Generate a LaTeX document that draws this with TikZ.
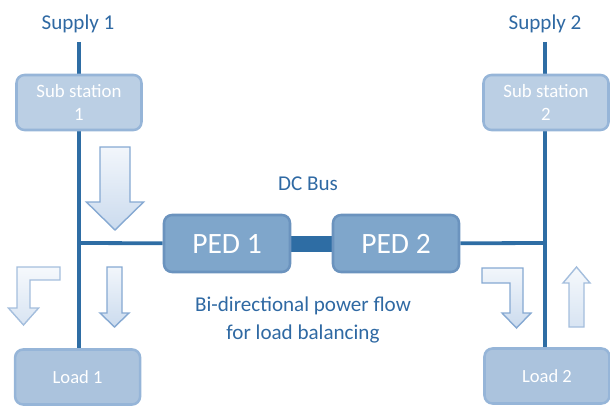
\documentclass[tikz,border=0pt]{standalone}
\usepackage{fontspec}
\setmainfont{Carlito}
\usepackage{tikz}
\pgfdeclarelayer{bg}
\pgfsetlayers{bg,main}
\definecolor{busblue}{HTML}{2E6DA4}
\definecolor{textblue}{HTML}{2F69A3}
\definecolor{subfill}{HTML}{BBCFE4}
\definecolor{subdraw}{HTML}{96B5D8}
\definecolor{loadfill}{HTML}{ABC3DD}
\definecolor{pedfill}{HTML}{7FA6CB}
\definecolor{peddraw}{HTML}{6B93BE}
\definecolor{arrowtop}{HTML}{F2F6FB}
\definecolor{arrowbot}{HTML}{CBDBEE}
\definecolor{arrowdraw}{HTML}{86A9D2}
\tikzset{
    box/.style={rectangle, rounded corners=2mm, draw=subdraw, line width=1.8pt, text=white, align=center, minimum width=3.125cm, minimum height=1.375cm, inner sep=0mm},
    subbox/.style={box, fill=subfill, font=\fontsize{13.4}{16.4}\selectfont},
    loadbox/.style={box, fill=loadfill, font=\fontsize{13.2}{16}\selectfont},
    pedbox/.style={box, fill=pedfill, draw=peddraw, minimum width=3.15cm, minimum height=1.425cm, font=\fontsize{21}{24}\selectfont},
    bluetext/.style={text=textblue, font=\fontsize{15}{20}\selectfont, align=center},
    busline/.style={draw=busblue, line width=2.7pt},
    flowarrow/.style={draw=arrowdraw, line width=1pt, top color=arrowtop, bottom color=arrowbot, line join=miter},
    paleflow/.style={flowarrow, draw=arrowdraw!75, top color=arrowtop!70, bottom color=arrowbot!75}
}

\begin{document}
\begin{tikzpicture}
        \useasboundingbox (0cm, 0cm) rectangle (15.25cm, 10.125cm);
        \node (supply1) [bluetext] at (1.950000cm, 9.540000cm) {Supply 1};
        \node (supply2) [bluetext] at (13.625000cm, 9.540000cm) {Supply 2};
        \coordinate (top1) at (1.975000cm, 9.075000cm);
        \coordinate (top2) at (13.625000cm, 9.075000cm);
        \node (sub1) [subbox] at (1.975000cm, 7.562500cm) {Sub station\\1};
        \node (sub2) [subbox] at (13.650000cm, 7.562500cm) {Sub station\\2};
        \node (load1) [loadbox] at (1.940000cm, 0.700000cm) {Load 1};
        \node (load2) [loadbox] at (13.675000cm, 0.725000cm) {Load 2};
        \node (ped1) [pedbox] at (5.675000cm, 4.037500cm) {PED 1};
        \node (ped2) [pedbox] at (9.900000cm, 4.037500cm) {PED 2};
        \coordinate (j1) at (1.975000cm, 4.050000cm);
        \coordinate (j2) at (13.625000cm, 4.050000cm);
        \node (dcbus) [bluetext] at (7.700000cm, 5.525000cm) {DC Bus};
        \node (flowtext) [bluetext] at (7.575000cm, 2.125000cm) {Bi-directional power flow\\for load balancing};
        % power flow arrows
        \draw[flowarrow] (2.500000cm, 6.450000cm) -- (3.250000cm, 6.450000cm) -- (3.250000cm, 5.075000cm) -- (3.590000cm, 5.075000cm) -- (2.875000cm, 4.375000cm) -- (2.160000cm, 5.075000cm) -- (2.500000cm, 5.075000cm) -- cycle;
        \draw[flowarrow] (2.675000cm, 3.450000cm) -- (3.050000cm, 3.450000cm) -- (3.050000cm, 2.300000cm) -- (3.225000cm, 2.300000cm) -- (2.862500cm, 1.950000cm) -- (2.500000cm, 2.300000cm) -- (2.675000cm, 2.300000cm) -- cycle;
        \draw[paleflow] (1.500000cm, 3.450000cm) -- (0.425000cm, 3.450000cm) -- (0.425000cm, 2.425000cm) -- (0.210000cm, 2.425000cm) -- (0.587500cm, 2.000000cm) -- (0.965000cm, 2.425000cm) -- (0.750000cm, 2.425000cm) -- (0.750000cm, 3.125000cm) -- (1.500000cm, 3.125000cm) -- cycle;
        \draw[flowarrow] (12.050000cm, 3.425000cm) -- (13.075000cm, 3.425000cm) -- (13.075000cm, 2.300000cm) -- (13.275000cm, 2.300000cm) -- (12.912500cm, 1.925000cm) -- (12.550000cm, 2.300000cm) -- (12.750000cm, 2.300000cm) -- (12.750000cm, 3.050000cm) -- (12.050000cm, 3.050000cm) -- cycle;
        \draw[paleflow] (14.225000cm, 1.950000cm) -- (14.600000cm, 1.950000cm) -- (14.600000cm, 3.050000cm) -- (14.750000cm, 3.050000cm) -- (14.412500cm, 3.450000cm) -- (14.075000cm, 3.050000cm) -- (14.225000cm, 3.050000cm) -- cycle;
        \begin{pgfonlayer}{bg}
                \draw[busline] (top1) -- (top1 |- load1.north);
                \draw[busline] (top2) -- (top2 |- load2.north);
                \draw[busline] (j1) -- (ped1);
                \draw[busline] (ped2) -- (j2);
                \draw[busblue, line width=0.4cm] (ped1) -- (ped2);
        \end{pgfonlayer}
\end{tikzpicture}
\end{document}
